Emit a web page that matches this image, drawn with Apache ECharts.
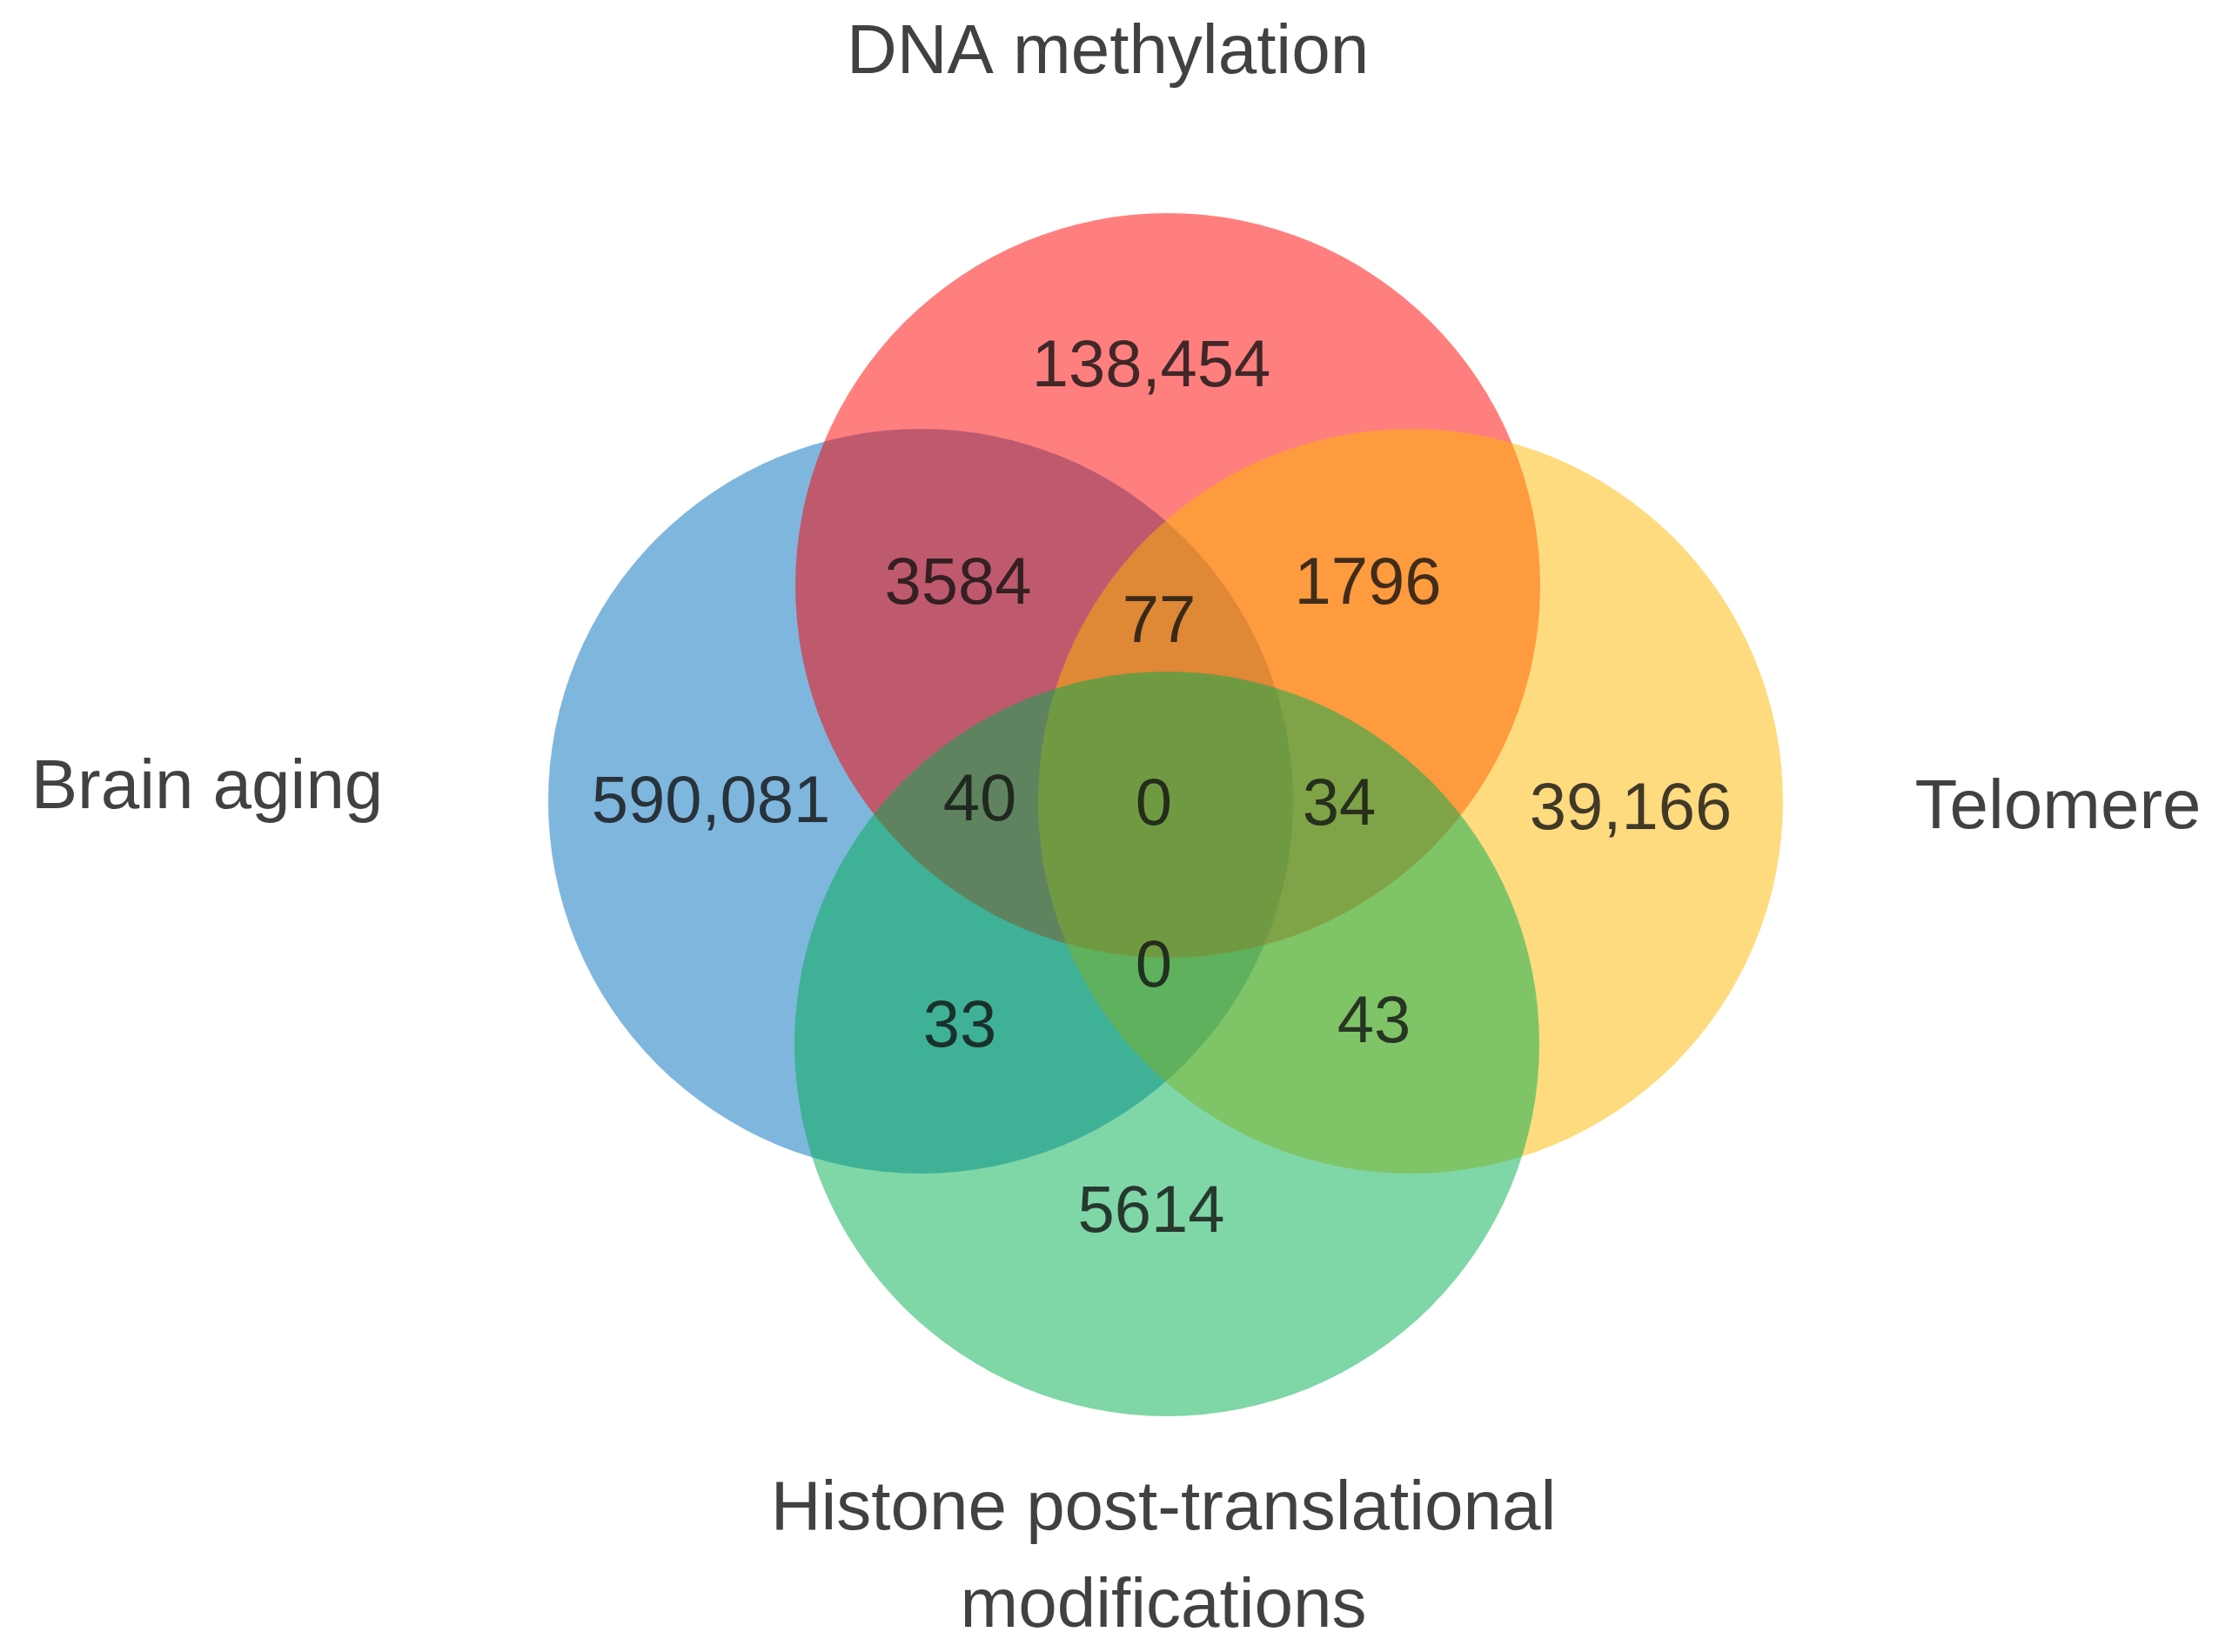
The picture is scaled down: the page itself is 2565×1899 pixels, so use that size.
<!DOCTYPE html>
<html>
<head>
<meta charset="utf-8">
<script src="https://cdn.jsdelivr.net/npm/echarts@6/dist/echarts.min.js"></script>
<style>html,body{margin:0;padding:0;background:#fff}#main{width:2565px;height:1899px}</style>
</head>
<body>
<div id="main"></div>
<script>
var myChart = echarts.init(document.getElementById('main'));

// sets: name, centre x, centre y, radius (in page units), colour
var setNames = ['Brain aging', 'DNA methylation', 'Telomere', 'Histone post-translational\nmodifications'];
var setCircles = [[1058, 921, 428], [1342, 673, 428], [1621, 921, 428], [1341, 1200, 428]];
var setColors = ['rgba(0,110,190,0.5)', 'rgba(255,0,0,0.5)', 'rgba(255,183,0,0.5)', 'rgba(0,173,80,0.5)'];
var setLabelPos = [[238, 907], [1273, 62], [2365, 930], [1337, 1792]];

// region counts and where they sit
var counts = ['138,454', '3584', '77', '1796', '590,081', '40', '0', '34', '39,166', '0', '33', '43', '5614'];
var countPos = [[1323, 423], [1101, 673], [1332, 717], [1572, 673], [817, 924], [1126, 922], [1326, 927],
                [1539, 927], [1874, 932], [1326, 1113], [1103, 1182], [1579, 1177], [1323, 1395]];

option = {
    animation: false,
    grid: {left: 0, right: 0, top: 0, bottom: 0},
    xAxis: {type: 'value', min: 0, max: 2565, show: false},
    yAxis: {type: 'value', min: 0, max: 1899, inverse: true, show: false},
    series: [{
        type: 'custom',
        data: setCircles.map(function (c, i) { return [c[0], c[1], c[2], i]; }),
        renderItem: function (params, api) {
            var p = api.coord([api.value(0), api.value(1)]);
            var r = api.size([api.value(2), 0])[0];
            return {type: 'circle', shape: {cx: p[0], cy: p[1], r: r},
                style: {fill: setColors[api.value(3)]}};
        }
    }, {
        type: 'scatter',
        symbolSize: 0,
        data: countPos.map(function (p, i) { return {value: p, name: counts[i]}; }),
        label: {show: true, position: 'inside', formatter: '{b}', color: '#111',
            fontFamily: 'Liberation Sans', fontSize: 76}
    }, {
        type: 'scatter',
        symbolSize: 0,
        data: setLabelPos.map(function (p, i) { return {value: p, name: setNames[i]}; }),
        label: {show: true, position: 'inside', formatter: '{b}', color: '#111',
            fontFamily: 'Liberation Sans', fontSize: 80, lineHeight: 112, align: 'center'}
    }]
};

myChart.setOption(option);
</script>
</body>
</html>
